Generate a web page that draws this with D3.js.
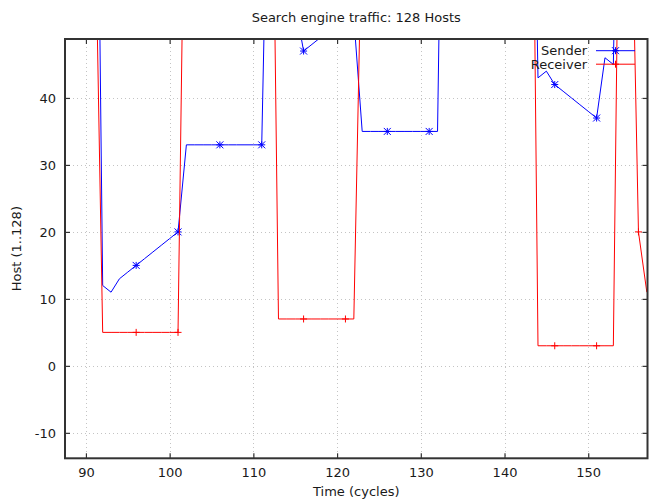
<!DOCTYPE html>
<html><head><meta charset="utf-8">
<script src="https://cdn.jsdelivr.net/npm/d3@7"></script>
<style>
body{margin:0;background:#fff}
text{font-family:"DejaVu Sans",sans-serif;fill:#1a1a1a}
</style>
</head><body>
<svg id="c" width="649" height="499"></svg>
<script>
// ---- data ----
const times = [91,92,93,94,95,96,97,98,99,100,101,102,103,104,105,106,107,108,109,110,
  111,112,113,114,115,116,117,118,119,120,121,122,123,124,125,126,127,128,129,130,
  131,132,133,134,135,136,137,138,139,140,141,142,143,144,145,146,147,148,149,150,
  151,152,153,154,155,156,157];
const sender = [125,12,11,13,14,15,16,17,18,19,20,33,33,33,33,33,33,33,33,33,
  33,94,100,80,54,47,48,49,70,90,60,52,35,35,35,35,35,35,35,35,
  35,35,120,125,110,118,122,105,112,120,108,116,115,43,44,42,41,40,39,38,
  37,46,45,110,118,104,96];
const receiver = [75,5,5,5,5,5,5,5,5,5,5,96,104,110,98,112,120,101,95,108,
  115,108,7,7,7,7,7,7,7,7,7,7,69,88,102,97,110,118,92,105,
  99,112,120,96,108,115,100,93,117,104,110,121,125,3,3,3,3,3,3,3,
  3,3,3,109,82,20,11];
const xTicks = [90,100,110,120,130,140,150];
const yTicks = [-10,0,10,20,30,40];
const seriesNames = ["Sender","Receiver"];
const title = "Search engine traffic: 128 Hosts";
const xTitle = "Time (cycles)";
const yTitle = "Host (1..128)";

// ---- layout ----
const L = 65, R = 647.5, T = 39, B = 458.3;
const svg = d3.select("#c");
const x = d3.scaleLinear().domain([87.5, 157.08]).range([L, R]);
const y = d3.scaleLinear().domain([-13.8, 48.8]).range([B, T]);
const FS = 13;
const borderCol = "#333333";

svg.append("defs").append("clipPath").attr("id","clip")
  .append("rect").attr("x",L).attr("y",T).attr("width",R-L).attr("height",B-T);

// grid
const grid = svg.append("g");
grid.selectAll(".gx").data(xTicks).join("line")
  .attr("x1",d=>Math.round(x(d))+0.5).attr("x2",d=>Math.round(x(d))+0.5)
  .attr("y1",T).attr("y2",B)
  .attr("stroke","#c4c4c4").attr("stroke-width",1).attr("stroke-dasharray","1,3");
grid.selectAll(".gy").data(yTicks).join("line")
  .attr("y1",d=>Math.round(y(d))+0.5).attr("y2",d=>Math.round(y(d))+0.5)
  .attr("x1",L).attr("x2",R)
  .attr("stroke","#c4c4c4").attr("stroke-width",1).attr("stroke-dasharray","1,3");

// axes
const fmt = d => String(d);
function styleAxis(g){
  g.select(".domain").remove();
  g.selectAll(".tick line").attr("stroke",borderCol).attr("stroke-width",1.2);
  g.selectAll(".tick text").attr("font-size",FS).attr("font-family","DejaVu Sans, sans-serif").attr("fill","#1a1a1a");
}
svg.append("g").attr("transform",`translate(0,${B})`)
  .call(d3.axisBottom(x).tickValues(xTicks).tickSize(-5).tickPadding(9).tickFormat(fmt))
  .call(styleAxis);
svg.append("g").attr("transform",`translate(0,${T})`)
  .call(d3.axisTop(x).tickValues(xTicks).tickSize(-5).tickFormat(""))
  .call(styleAxis);
svg.append("g").attr("transform",`translate(${L},0)`)
  .call(d3.axisLeft(y).tickValues(yTicks).tickSize(-5).tickPadding(9).tickFormat(fmt))
  .call(styleAxis);
svg.append("g").attr("transform",`translate(${R},0)`)
  .call(d3.axisRight(y).tickValues(yTicks).tickSize(-5).tickFormat(""))
  .call(styleAxis);

// series
const colors = ["#0000ff","#ff0000"];
const data = [sender, receiver];
const plot = svg.append("g").attr("clip-path","url(#clip)");
const line = d3.line().x((d,i)=>x(times[i])).y(d=>y(d));
const s = 3.5;
const starPath = `M${-s},0H${s}M0,${-s}V${s}M${-s},${-s}L${s},${s}M${-s},${s}L${s},${-s}`;
const plusPath = `M${-s},0H${s}M0,${-s}V${s}`;
const markerPaths = [starPath, plusPath];

data.forEach((vals,k)=>{
  plot.append("path").datum(vals).attr("d",line)
    .attr("fill","none").attr("stroke",colors[k]).attr("stroke-width",1).attr("stroke-linejoin","miter");
  const pts = vals.map((v,i)=>({t:times[i],v})).filter((p,i)=>i%5===0);
  plot.selectAll(null).data(pts).join("path")
    .attr("transform",p=>`translate(${x(p.t)},${y(p.v)})`)
    .attr("d",markerPaths[k]).attr("stroke",colors[k]).attr("stroke-width",1).attr("fill","none");
});

// border
svg.append("rect").attr("x",L).attr("y",T).attr("width",R-L).attr("height",B-T)
  .attr("fill","none").attr("stroke",borderCol).attr("stroke-width",2);

// legend
const leg = svg.append("g");
seriesNames.forEach((nm,k)=>{
  const ly = 50.7 + k*13.5;
  leg.append("text").attr("x",587).attr("y",ly).attr("dy","0.35em")
    .attr("text-anchor","end").attr("font-size",FS).text(nm);
  leg.append("line").attr("x1",596).attr("x2",635).attr("y1",ly).attr("y2",ly)
    .attr("stroke",colors[k]).attr("stroke-width",1);
  leg.append("path").attr("transform",`translate(615.5,${ly})`).attr("d",markerPaths[k])
    .attr("stroke",colors[k]).attr("stroke-width",1).attr("fill","none");
});

// titles
svg.append("text").attr("x",(L+R)/2).attr("y",22).attr("text-anchor","middle")
  .attr("font-size",FS).text(title);
svg.append("text").attr("x",(L+R)/2).attr("y",496).attr("text-anchor","middle")
  .attr("font-size",FS).text(xTitle);
svg.append("text").attr("transform",`translate(20.5,${(T+B)/2}) rotate(-90)`)
  .attr("text-anchor","middle").attr("font-size",FS).text(yTitle);
</script>
</body></html>
